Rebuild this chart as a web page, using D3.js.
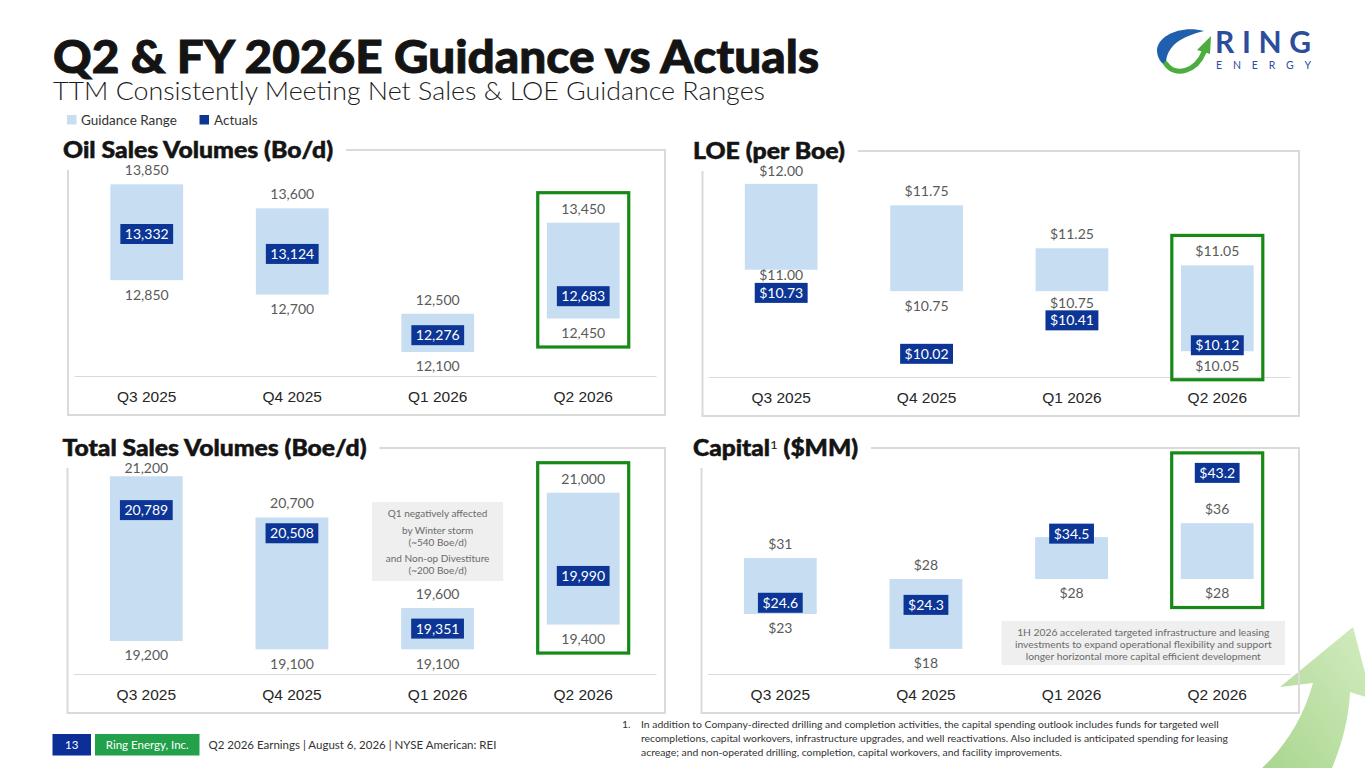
<!DOCTYPE html>
<html>
<head>
<meta charset="utf-8">
<script src="https://cdn.jsdelivr.net/npm/d3@7"></script>
<style>
  body { margin: 0; background: #fff; }
  svg { display: block; font-family: Lato, "Noto Sans", sans-serif; }
</style>
</head>
<body>
<svg id="slide" width="1365" height="768"></svg>
<script>
// ---- data ----
const quarters = ["Q3 2025", "Q4 2025", "Q1 2026", "Q2 2026"];

const oilLow = [12850, 12700, 12100, 12450];
const oilHigh = [13850, 13600, 12500, 13450];
const oilActual = [13332, 13124, 12276, 12683];

const loeLow = [11.00, 10.75, 10.75, 10.05];
const loeHigh = [12.00, 11.75, 11.25, 11.05];
const loeActual = [10.73, 10.02, 10.41, 10.12];

const totalLow = [19200, 19100, 19100, 19400];
const totalHigh = [21200, 20700, 19600, 21000];
const totalActual = [20789, 20508, 19351, 19990];

const capLow = [23, 18, 28, 28];
const capHigh = [31, 28, 34, 36];
const capActual = [24.6, 24.3, 34.5, 43.2];

const totalNote = ["Q1 negatively affected", "by Winter storm", "(~540 Boe/d)", "and Non-op Divestiture", "(~200 Boe/d)"];
const capNote = [
  "1H 2026 accelerated targeted infrastructure and leasing",
  "investments to expand operational flexibility and support",
  "longer horizontal more capital efficient development"
];
const footnote = [
  "In addition to Company-directed drilling and completion activities, the capital spending outlook includes funds for targeted well",
  "recompletions, capital workovers, infrastructure upgrades, and well reactivations. Also included is anticipated spending for leasing",
  "acreage; and non-operated drilling, completion, capital workovers, and facility improvements."
];

const COLORS = {
  range: "#c7ddf2",
  actual: "#0c3595",
  green: "#168a16",
  frame: "#dadada",
  label: "#5a5a5a",
  text: "#262626",
  noteFill: "#efefef",
  noteText: "#6a6a6a"
};

const svg = d3.select("#slide");

// ---- decorative arrow, bottom right ----
const defs = svg.append("defs");
const grad = defs.append("linearGradient").attr("id", "arrowGrad")
  .attr("x1", "0").attr("y1", "1").attr("x2", "1").attr("y2", "0");
grad.append("stop").attr("offset", "0%").attr("stop-color", "#a9d68f");
grad.append("stop").attr("offset", "100%").attr("stop-color", "#d3ecc0");

svg.append("path")
  .attr("d", "M1353,627 L1280,687 L1313,683 C1304,716 1286,746 1262,768 L1332,768 C1343,742 1349,716 1350,692 L1372,699 Z")
  .attr("fill", "url(#arrowGrad)");

// ---- header ----
svg.append("text")
  .attr("x", 53).attr("y", 73)
  .attr("font-size", 46).attr("font-weight", 900).attr("fill", "#141414")
  .attr("stroke", "#141414").attr("stroke-width", 0.9)
  .attr("textLength", 766).attr("lengthAdjust", "spacingAndGlyphs")
  .text("Q2 & FY 2026E Guidance vs Actuals");

svg.append("text")
  .attr("x", 53).attr("y", 100)
  .attr("font-size", 25.5).attr("font-weight", 300).attr("fill", "#1c1c1c")
  .attr("textLength", 712).attr("lengthAdjust", "spacingAndGlyphs")
  .text("TTM Consistently Meeting Net Sales & LOE Guidance Ranges");

const legend = svg.append("g").attr("font-size", 13.5).attr("fill", "#333");
legend.append("rect").attr("x", 67).attr("y", 115).attr("width", 9.5).attr("height", 9.5).attr("fill", COLORS.range);
legend.append("text").attr("x", 81).attr("y", 124.5).text("Guidance Range");
legend.append("rect").attr("x", 199.5).attr("y", 115).attr("width", 9.5).attr("height", 9.5).attr("fill", COLORS.actual);
legend.append("text").attr("x", 214).attr("y", 124.5).text("Actuals");

// ---- logo ----
const logo = svg.append("g");
logo.append("path")
  .attr("d", "M1204,31 C1182,25 1158,35 1157,50 C1157,58 1161,63 1167,67 C1164,57 1170,44 1186,37 C1193,34 1199,32 1204,31 Z")
  .attr("fill", "#1f5fae");
logo.append("path")
  .attr("d", "M1166,64 C1175,77 1196,72 1204,52")
  .attr("fill", "none").attr("stroke", "#4cad3e").attr("stroke-width", 5).attr("stroke-linecap", "round");
logo.append("path")
  .attr("d", "M1211,36 L1197,50 L1210,54 Z")
  .attr("fill", "#4cad3e");
logo.append("text")
  .attr("x", 1215).attr("y", 53)
  .attr("font-size", 30).attr("font-weight", 700).attr("fill", "#2c4d9c")
  .attr("textLength", 96).attr("lengthAdjust", "spacing")
  .text("RING");
logo.append("text")
  .attr("x", 1216).attr("y", 69)
  .attr("font-size", 10.5).attr("fill", "#2c4d9c")
  .attr("textLength", 95).attr("lengthAdjust", "spacing")
  .text("ENERGY");

// ---- panels ----
function drawPanel(opts) {
  const { left, right, top, bottom, domain, low, high, actual, fmtRange, fmtActual } = opts;
  const g = svg.append("g");
  const axisY = bottom - 39;
  const plotTop = top + 20;

  const x = d3.scaleBand().domain(quarters).range([left + 6, right - 9]).paddingInner(0.5).paddingOuter(0.25);
  const y = d3.scaleLinear().domain(domain).range([axisY, plotTop]);
  const bw = x.bandwidth();

  // title
  const title = g.append("text")
    .attr("x", opts.titleX).attr("y", top + 7.5)
    .attr("font-size", 22).attr("font-weight", 900).attr("fill", "#141414")
    .attr("stroke", "#141414").attr("stroke-width", 0.5)
    .attr("textLength", opts.titleWidth).attr("lengthAdjust", "spacingAndGlyphs");
  opts.title.forEach(part => {
    const ts = title.append("tspan").text(part.text);
    if (part.sup) ts.attr("font-size", 12).attr("font-weight", 400).attr("stroke-width", 0).attr("baseline-shift", "super");
  });
  const lineStart = opts.titleX + opts.titleWidth + 13;

  // frame
  g.append("path")
    .attr("d", `M${lineStart},${top} H${right} V${bottom} H${left} V${top + 20}`)
    .attr("fill", "none").attr("stroke", COLORS.frame).attr("stroke-width", 2);

  // axis
  const axis = g.append("g")
    .attr("transform", `translate(0,${axisY})`)
    .call(d3.axisBottom(x).tickSize(0).tickSizeOuter(0).tickPadding(15));
  axis.select(".domain").attr("stroke", COLORS.frame).attr("stroke-width", 1.2);
  axis.selectAll("text").attr("font-size", 15.5).attr("fill", COLORS.text).attr("font-family", null);

  const rows = quarters.map((q, i) => ({ q, lo: low[i], hi: high[i], act: actual[i] }));

  // guidance ranges
  g.append("g").selectAll("rect")
    .data(rows).join("rect")
    .attr("x", d => x(d.q)).attr("width", bw)
    .attr("y", d => y(d.hi)).attr("height", d => y(d.lo) - y(d.hi))
    .attr("fill", COLORS.range);

  // range labels (nudged off the actual tag when they would collide)
  rows.forEach(d => {
    const cx = x(d.q) + bw / 2;
    const ya = y(d.act);
    d.hiY = Math.max(y(d.hi) - 14, plotTop);
    d.loY = y(d.lo) + 14.5;
    if (Math.abs(d.loY - ya) < 17) d.loY = ya > d.loY ? ya - 17.5 : ya + 17.5;
    d.showHi = Math.abs(d.hiY - ya) >= 17;
    const lab = g.append("g").attr("font-size", 14).attr("fill", COLORS.label).attr("text-anchor", "middle");
    if (d.showHi) lab.append("text").attr("x", cx).attr("y", d.hiY).attr("dy", "0.35em").text(fmtRange(d.hi));
    lab.append("text").attr("x", cx).attr("y", d.loY).attr("dy", "0.35em").text(fmtRange(d.lo));
  });

  // actual value tags
  const tags = g.append("g").selectAll("g")
    .data(rows).join("g")
    .attr("transform", d => `translate(${x(d.q) + bw / 2},${y(d.act)})`);
  tags.append("rect").attr("fill", COLORS.actual);
  tags.append("text")
    .attr("text-anchor", "middle").attr("dy", "0.35em")
    .attr("font-size", 14).attr("fill", "#fff")
    .text(d => fmtActual(d.act));
  tags.each(function () {
    const t = d3.select(this).select("text").node();
    const w = t.getComputedTextLength() + 9;
    d3.select(this).select("rect").attr("x", -w / 2).attr("y", -10).attr("width", w).attr("height", 20);
  });

  // highlight the latest quarter
  const last = rows[rows.length - 1];
  const ya = y(last.act);
  const boxTop = Math.min(last.showHi ? last.hiY - 16 : Infinity, ya - 20);
  const boxBottom = Math.max(last.loY + 14, ya + 20);
  g.append("rect")
    .attr("x", x(last.q) + bw / 2 - 45.5).attr("width", 91)
    .attr("y", boxTop).attr("height", boxBottom - boxTop)
    .attr("fill", "none").attr("stroke", COLORS.green).attr("stroke-width", 3.2);

  return { g, x, y, bw };
}

const fmtVol = d3.format(",");
const fmtLoe = d3.format("$.2f");

drawPanel({
  title: [{ text: "Oil Sales Volumes (Bo/d)" }], titleX: 63, titleWidth: 270,
  left: 68, right: 665, top: 150, bottom: 415,
  domain: [11850, 14000],
  low: oilLow, high: oilHigh, actual: oilActual,
  fmtRange: fmtVol, fmtActual: fmtVol
});

drawPanel({
  title: [{ text: "LOE (per Boe)" }], titleX: 693, titleWidth: 152,
  left: 702.5, right: 1299, top: 151, bottom: 416,
  domain: [9.75, 12.15],
  low: loeLow, high: loeHigh, actual: loeActual,
  fmtRange: fmtLoe, fmtActual: fmtLoe
});

const total = drawPanel({
  title: [{ text: "Total Sales Volumes (Boe/d)" }], titleX: 62.5, titleWidth: 304,
  left: 67.5, right: 665, top: 448, bottom: 713,
  domain: [18800, 21300],
  low: totalLow, high: totalHigh, actual: totalActual,
  fmtRange: fmtVol, fmtActual: fmtVol
});

const cap = drawPanel({
  title: [{ text: "Capital" }, { text: "1", sup: true }, { text: " ($MM)" }], titleX: 693, titleWidth: 165,
  left: 701.5, right: 1299, top: 448, bottom: 713,
  domain: [14.4, 43.9],
  low: capLow, high: capHigh, actual: capActual,
  fmtRange: d3.format("$.0f"), fmtActual: d3.format("$.1f")
});

// ---- notes ----
{
  const cx = total.x("Q1 2026") + total.bw / 2;
  const top = 448;
  const note = total.g.append("g");
  note.append("rect").attr("x", cx - 65.5).attr("y", top + 54).attr("width", 131).attr("height", 79).attr("fill", COLORS.noteFill);
  const offs = [65.7, 82, 94, 110.3, 122.3];
  note.selectAll("text").data(totalNote).join("text")
    .attr("x", cx).attr("y", (d, i) => top + offs[i]).attr("dy", "0.35em")
    .attr("text-anchor", "middle").attr("font-size", 10).attr("fill", COLORS.noteText)
    .text(d => d);
}
{
  const x0 = cap.x("Q1 2026") + cap.bw / 2 - 70;
  const x1 = 1299 - 14;
  const top = 448;
  const note = cap.g.append("g");
  note.append("rect").attr("x", x0).attr("y", top + 173).attr("width", x1 - x0).attr("height", 44).attr("fill", COLORS.noteFill);
  note.selectAll("text").data(capNote).join("text")
    .attr("x", (x0 + x1) / 2).attr("y", (d, i) => top + 184 + i * 12).attr("dy", "0.35em")
    .attr("text-anchor", "middle").attr("font-size", 10.3).attr("fill", COLORS.noteText)
    .text(d => d);
}

// ---- footer ----
const footer = svg.append("g").attr("font-size", 11.5);
footer.append("rect").attr("x", 52.5).attr("y", 734).attr("width", 38.5).attr("height", 21.5).attr("fill", "#0b2f97");
footer.append("text").attr("x", 71.7).attr("y", 749).attr("text-anchor", "middle").attr("fill", "#fff").text("13");
footer.append("rect").attr("x", 95).attr("y", 734).attr("width", 104.5).attr("height", 21.5).attr("fill", "#22a14a");
footer.append("text").attr("x", 147.3).attr("y", 749).attr("text-anchor", "middle").attr("fill", "#fff").text("Ring Energy, Inc.");
footer.append("text").attr("x", 208.5).attr("y", 749).attr("fill", "#333").text("Q2 2026 Earnings | August 6, 2026 | NYSE American: REI");

const fn = svg.append("g").attr("font-size", 10.4).attr("fill", "#333");
fn.append("text").attr("x", 622).attr("y", 727.5).text("1.");
fn.selectAll("text.line").data(footnote).join("text")
  .attr("class", "line")
  .attr("x", 641).attr("y", (d, i) => 727.5 + i * 14)
  .text(d => d);
</script>
</body>
</html>
